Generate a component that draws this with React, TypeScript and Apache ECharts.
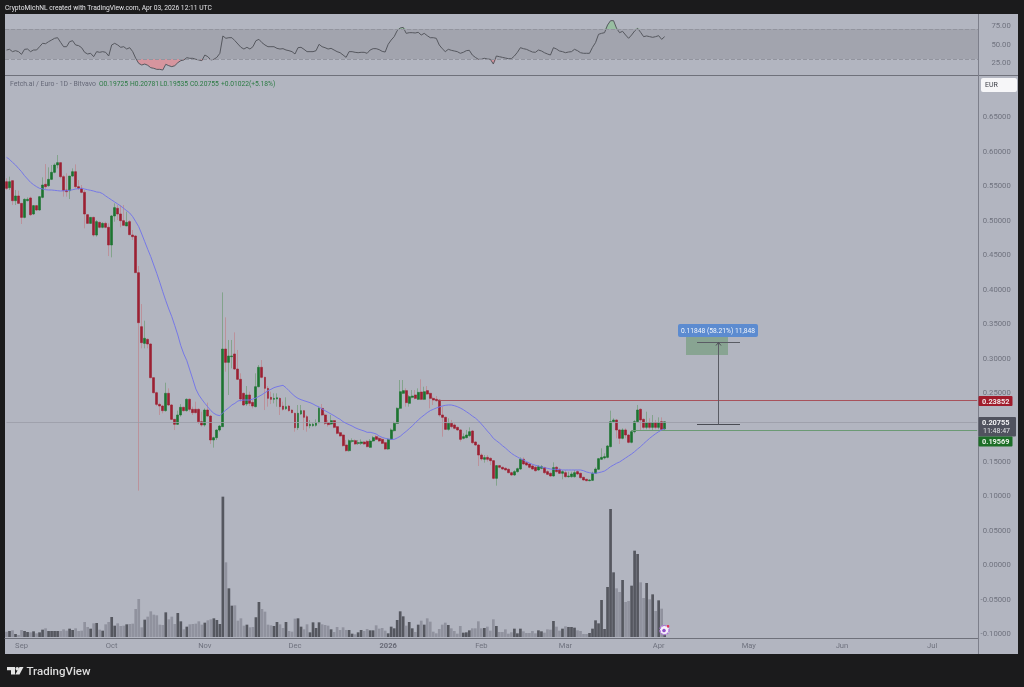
import React, { useEffect, useRef } from "react";
import * as echarts from "echarts";

const TOTAL_DAYS = 324;
const categories: string[] = [];
for (let d = 0; d < TOTAL_DAYS; d++) {
  categories.push(new Date(Date.UTC(2025, 7, 27 + d)).toISOString().slice(0, 10));
}
const monthNames = ["Jan", "Feb", "Mar", "Apr", "May", "Jun", "Jul", "Aug", "Sep", "Oct", "Nov", "Dec"];

const opens = [
  .5555,.5468,.5570,.5280,.5348,.5241,.5038,.5280,.5319,.5087,
  .5208,.5145,.5328,.5517,.5497,.5589,.5691,.5797,.5831,.5628,
  .5435,.5425,.5637,.5700,.5483,.5459,.5401,.5077,.4951,.5038,
  .4782,.4966,.4894,.4951,.4894,.4638,.5058,.5169,.5087,.4990,
  .4913,.4976,.4782,.4768,.4236,.3454,.3212,.3270,.3203,.2715,
  .2497,.2328,.2304,.2237,.2488,.2319,.2111,.2039,.2174,.2285,
  .2237,.2401,.2256,.2256,.2256,.2077,.2029,.2246,.2159,.1812,
  .1845,.1956,.2005,.3130,.2937,.3019,.3058,.2840,.2691,.2488,
  .2333,.2464,.2357,.2295,.2584,.2865,.2720,.2560,.2430,.2401,
  .2406,.2415,.2304,.2266,.2304,.2246,.2198,.1990,.2188,.2237,
  .2150,.2019,.2019,.2024,.2063,.2270,.2174,.2063,.2043,.2092,
  .2005,.1918,.1884,.1739,.1657,.1792,.1802,.1763,.1763,.1783,
  .1792,.1705,.1797,.1860,.1836,.1821,.1773,.1681,.1821,.1947,
  .2053,.2271,.2488,.2527,.2343,.2430,.2464,.2401,.2507,.2401,
  .2527,.2488,.2415,.2401,.2391,.2174,.2140,.1966,.2053,.2029,
  .1995,.1957,.1836,.1846,.1875,.1942,.1783,.1739,.1594,.1532,
  .1560,.1546,.1512,.1256,.1440,.1416,.1401,.1387,.1338,.1305,
  .1353,.1391,.1532,.1483,.1464,.1435,.1416,.1377,.1401,.1411,
  .1353,.1329,.1290,.1416,.1387,.1329,.1338,.1280,.1280,.1280,
  .1353,.1329,.1271,.1242,.1222,.1227,.1329,.1387,.1532,.1551,
  .1560,.1715,.2077,.2101,.1957,.1836,.1957,.1884,.1778,.1932,
  .2077,.2256,.2111,.1995,.2063,.1995,.2063,.1995,.2077,.19725,
];
const highs = [
  .5604,.5628,.5570,.5435,.5425,.5241,.5314,.5328,.5338,.5217,
  .5217,.5348,.5618,.5811,.5763,.5797,.5821,.5942,.5831,.5652,
  .5676,.5637,.5748,.5806,.5579,.5507,.5435,.5087,.5038,.5048,
  .5000,.4976,.4966,.4976,.4951,.5072,.5241,.5217,.5217,.5217,
  .5121,.5000,.4855,.4782,.4333,.3782,.3541,.3285,.3212,.2715,
  .2512,.2353,.2319,.2642,.2560,.2333,.2111,.2237,.2333,.2295,
  .2415,.2415,.2295,.2367,.2270,.2222,.2270,.2353,.2174,.1860,
  .1966,.2029,.3951,.3589,.3261,.3261,.3372,.3116,.2778,.2498,
  .2594,.2512,.2391,.2778,.2898,.2971,.2729,.2594,.2512,.2488,
  .2488,.2430,.2367,.2430,.2319,.2256,.2208,.2319,.2319,.2246,
  .2174,.2101,.2063,.2111,.2295,.2333,.2198,.2101,.2174,.2101,
  .2014,.1932,.1899,.1812,.1821,.1836,.1821,.1812,.1821,.1797,
  .1812,.1826,.1870,.1879,.1860,.1846,.1788,.1836,.1981,.2077,
  .2285,.2681,.2681,.2560,.2464,.2536,.2536,.2560,.2691,.2584,
  .2594,.2498,.2440,.2449,.2401,.2295,.2150,.2126,.2102,.2053,
  .2005,.1966,.1908,.1957,.1995,.1957,.1792,.1754,.1618,.1594,
  .1594,.1560,.1522,.1449,.1449,.1425,.1416,.1401,.1353,.1377,
  .1411,.1560,.1560,.1498,.1473,.1454,.1440,.1449,.1449,.1425,
  .1377,.1343,.1488,.1435,.1401,.1377,.1377,.1353,.1353,.1377,
  .1377,.1338,.1280,.1251,.1242,.1353,.1416,.1551,.1691,.1618,
  .1739,.2237,.2126,.2111,.1966,.1981,.1981,.1894,.1957,.2102,
  .2319,.2271,.2126,.2222,.2126,.2174,.2102,.2140,.2140,.20781,
];
const lows = [
  .5435,.5435,.5217,.5217,.5241,.4942,.5024,.5270,.5058,.5072,
  .5130,.5135,.5314,.5444,.5483,.5579,.5676,.5748,.5604,.5338,
  .5338,.5304,.5628,.5459,.5435,.5386,.4879,.4951,.4951,.4758,
  .4758,.4879,.4880,.4880,.4478,.4459,.4976,.5000,.4894,.4923,
  .4913,.4782,.4710,.4237,.1077,.3140,.3140,.3140,.2705,.2488,
  .2304,.2174,.2198,.2222,.2304,.2101,.1956,.2029,.2150,.2222,
  .2222,.2222,.2174,.2198,.2043,.2005,.2005,.2150,.1754,.1701,
  .1812,.1932,.2005,.2802,.2464,.2850,.2826,.2681,.2367,.2304,
  .2304,.2304,.2270,.2285,.2575,.2705,.2246,.2295,.2333,.2343,
  .2295,.2174,.2237,.2246,.2222,.2198,.1932,.1956,.2174,.1956,
  .1932,.1981,.2005,.2005,.2053,.2159,.2029,.2005,.2029,.1981,
  .1894,.1860,.1715,.1643,.1643,.1773,.1739,.1739,.1739,.1739,
  .1705,.1700,.1783,.1807,.1783,.1754,.1667,.1667,.1812,.1933,
  .2044,.2256,.2478,.2295,.2295,.2415,.2401,.2391,.2391,.2391,
  .2464,.2271,.2319,.2367,.2150,.1860,.1957,.1947,.1981,.1966,
  .1947,.1788,.1821,.1836,.1860,.1754,.1725,.1435,.1512,.1483,
  .1498,.1449,.1242,.1150,.1401,.1377,.1367,.1329,.1290,.1290,
  .1338,.1377,.1449,.1435,.1401,.1377,.1353,.1367,.1387,.1319,
  .1305,.1280,.1280,.1338,.1319,.1242,.1266,.1266,.1266,.1266,
  .1305,.1251,.1222,.1213,.1213,.1218,.1319,.1377,.1522,.1532,
  .1546,.1705,.2063,.1836,.1754,.1821,.1836,.1763,.1763,.1908,
  .2063,.1947,.1966,.1966,.1966,.1957,.1966,.1966,.1957,.19535,
];
const closes = [
  .5459,.5555,.5280,.5348,.5241,.5038,.5299,.5299,.5077,.5208,
  .5145,.5338,.5507,.5483,.5589,.5691,.5797,.5831,.5628,.5425,
  .5410,.5637,.5700,.5483,.5459,.5401,.5087,.4951,.5038,.4782,
  .4976,.4894,.4951,.4894,.4638,.5058,.5179,.5087,.4990,.4923,
  .4966,.4787,.4758,.4237,.3512,.3222,.3285,.3203,.2715,.2497,
  .2328,.2304,.2237,.2488,.2319,.2111,.2039,.2174,.2285,.2237,
  .2401,.2256,.2208,.2208,.2077,.2029,.2246,.2159,.1812,.1845,
  .1956,.2014,.3130,.2937,.3029,.3029,.2840,.2691,.2406,.2319,
  .2464,.2343,.2304,.2584,.2865,.2720,.2560,.2415,.2401,.2415,
  .2425,.2295,.2256,.2295,.2237,.2208,.1990,.2198,.2237,.2140,
  .2014,.2039,.2039,.2063,.2270,.2174,.2053,.2034,.2092,.1995,
  .1908,.1870,.1730,.1657,.1802,.1802,.1754,.1773,.1783,.1754,
  .1715,.1797,.1846,.1821,.1797,.1763,.1681,.1821,.1957,.2053,
  .2271,.2512,.2527,.2353,.2440,.2449,.2415,.2502,.2401,.2512,
  .2478,.2415,.2391,.2382,.2174,.2140,.1966,.2053,.2005,.1981,
  .1957,.1821,.1860,.1884,.1932,.1773,.1739,.1594,.1536,.1556,
  .1532,.1512,.1256,.1440,.1416,.1391,.1377,.1338,.1305,.1353,
  .1396,.1532,.1464,.1449,.1416,.1391,.1367,.1425,.1425,.1338,
  .1314,.1290,.1411,.1353,.1329,.1353,.1280,.1290,.1319,.1338,
  .1319,.1266,.1232,.1222,.1232,.1329,.1391,.1541,.1560,.1570,
  .1725,.2077,.2101,.1957,.1836,.1957,.1884,.1778,.1932,.2077,
  .2246,.2102,.1995,.2063,.1995,.2063,.1995,.2063,.1966,.20755,
];
const movingAverage = [
  .5908,.5879,.5835,.5797,.5748,.5700,.5642,.5594,.5546,.5512,
  .5483,.5459,.5451,.5439,.5435,.5435,.5430,.5425,.5420,.5425,
  .5425,.5430,.5439,.5449,.5454,.5459,.5449,.5439,.5430,.5420,
  .5406,.5401,.5381,.5348,.5319,.5290,.5261,.5232,.5203,.5169,
  .5135,.5101,.5048,.4976,.4903,.4797,.4686,.4575,.4469,.4348,
  .4227,.4097,.3961,.3831,.3710,.3599,.3469,.3334,.3178,.3058,
  .2961,.2826,.2691,.2551,.2464,.2401,.2343,.2290,.2237,.2198,
  .2174,.2164,.2208,.2246,.2280,.2319,.2343,.2377,.2386,.2391,
  .2391,.2391,.2406,.2420,.2444,.2468,.2497,.2526,.2546,.2570,
  .2584,.2594,.2604,.2570,.2526,.2483,.2444,.2415,.2396,.2381,
  .2367,.2353,.2333,.2309,.2290,.2261,.2237,.2212,.2188,.2164,
  .2135,.2111,.2077,.2053,.2034,.2014,.1990,.1971,.1956,.1942,
  .1923,.1923,.1913,.1899,.1870,.1850,.1836,.1826,.1821,.1821,
  .1841,.1865,.1903,.1937,.1976,.2015,.2058,.2102,.2140,.2174,
  .2208,.2237,.2256,.2275,.2290,.2304,.2314,.2319,.2319,.2309,
  .2295,.2275,.2251,.2222,.2193,.2159,.2130,.2092,.2044,.1995,
  .1942,.1894,.1836,.1802,.1768,.1730,.1696,.1657,.1619,.1590,
  .1565,.1541,.1522,.1498,.1478,.1459,.1445,.1435,.1420,.1411,
  .1401,.1391,.1387,.1387,.1382,.1377,.1377,.1377,.1377,.1377,
  .1377,.1377,.1367,.1348,.1338,.1329,.1329,.1338,.1348,.1362,
  .1391,.1425,.1449,.1474,.1493,.1522,.1551,.1580,.1609,.1643,
  .1681,.1715,.1759,.1797,.1836,.1870,.1903,.1932,.1957,.1971,
];
const rsiValues = [
  42.0,42.9,39.8,41.1,39.8,36.2,42.9,43.3,39.8,42.0,
  42.0,46.4,50.9,50.4,53.1,55.3,57.6,58.4,52.2,46.4,
  46.4,53.1,54.4,48.7,47.8,45.1,38.9,36.7,37.6,33.1,
  39.8,38.9,39.8,38.9,34.0,48.7,50.9,48.7,45.6,46.4,
  43.3,45.1,39.8,30.9,24.2,22.0,23.3,21.6,18.4,17.6,
  16.2,16.2,15.3,22.9,21.1,19.8,21.1,25.1,27.8,28.7,
  31.8,30.9,30.9,29.6,28.7,27.8,35.3,33.1,28.7,29.6,
  32.2,37.6,60.7,57.6,58.4,58.4,54.4,50.0,45.6,43.3,
  45.6,43.3,46.4,54.4,56.2,51.8,48.7,46.4,46.4,46.4,
  44.2,43.3,43.8,42.0,41.1,39.8,36.7,45.1,45.6,42.9,
  39.8,39.8,39.8,41.1,49.6,46.4,45.1,43.3,44.2,42.0,
  39.8,38.4,35.3,32.2,39.8,39.8,38.9,38.4,38.9,38.9,
  37.6,42.0,43.8,43.8,42.5,40.2,39.3,49.6,55.3,59.8,
  67.8,71.3,72.2,64.2,65.1,65.1,64.7,65.6,62.0,64.2,
  61.1,58.4,58.4,57.6,48.7,43.8,39.8,42.9,41.6,40.7,
  39.8,37.6,38.9,41.1,41.6,35.3,32.2,29.6,29.6,30.9,
  30.0,29.6,23.3,34.0,33.1,32.2,31.3,30.4,30.4,34.0,
  38.9,45.1,43.8,42.9,41.1,39.3,38.9,42.0,40.7,38.4,
  36.7,35.3,45.1,43.3,40.7,39.8,38.4,39.3,39.8,42.9,
  41.1,38.4,37.6,37.6,37.6,45.6,51.8,62.9,64.2,65.1,
  75.3,81.1,81.1,70.9,65.1,66.9,62.0,57.6,62.0,67.3,
  70.9,65.6,59.8,60.7,59.8,58.9,59.8,61.1,56.2,59.8,
];
const volumes = [
  16,18,20,9,6,21,18,15,14,17,
  11,14,22,26,18,18,18,18,18,23,
  19,25,21,26,18,19,45,30,25,41,
  42,22,19,38,45,60,34,41,33,34,
  38,39,40,84,114,29,52,61,77,67,
  65,37,36,74,53,61,39,72,47,23,
  31,38,39,40,47,37,43,50,53,56,
  51,39,421,224,146,94,95,49,56,34,
  37,29,30,59,105,84,76,37,35,33,
  45,38,27,45,18,16,55,56,31,23,
  38,14,44,27,44,38,36,34,23,15,
  30,21,29,21,21,10,8,14,21,18,
  24,20,20,35,25,27,19,11,31,26,
  51,77,62,34,45,26,15,37,49,37,
  56,46,16,11,24,37,43,36,26,18,
  10,33,13,14,20,26,26,47,26,27,
  31,19,53,33,15,15,23,10,14,25,
  11,25,17,12,12,18,11,20,17,13,
  23,22,48,31,19,25,32,30,30,28,
  20,18,9,9,12,25,50,41,111,24,
  150,384,194,146,135,171,105,108,154,259,
  249,164,117,162,113,128,78,110,85,36,
];
const priceTicks = [0.65, 0.6, 0.55, 0.5, 0.45, 0.4, 0.35, 0.3, 0.25, 0.15, 0.1, 0.05, 0, -0.05, -0.1];
const rsiTicks = [25, 50, 75];
const resistanceLevel = 0.23852;
const supportLevel = 0.19569;
const lastPrice = 0.20755;

const PANEL = "#b2b5c0";
const UP = "#1c7430";
const DOWN = "#9c2032";
const UP_WICK = "#83a38c";
const DOWN_WICK = "#bb929b";
const FONT = "Roboto, 'Liberation Sans', sans-serif";

const App = () => {
  const ref = useRef<HTMLDivElement>(null);
  useEffect(() => {
    const chart = echarts.init(ref.current!, undefined, { renderer: "svg", width: 1024, height: 687 });
    const wicks = opens.map((o, i) => [o, closes[i], lows[i], highs[i]]);
    const bodies = opens.map((o, i) => [o, closes[i], Math.min(o, closes[i]), Math.max(o, closes[i])]);
    const volumeData = volumes.map((v, i) => ({
      value: v,
      itemStyle: { color: closes[i] >= opens[i] ? "#55575f" : "#90929e" },
    }));
    const txt = (text: string, x: number, y: number, fill: string, size = 6.6, extra: any = {}) => ({
      type: "text", x, y, z: 100, silent: true,
      style: { text, fill, font: `${extra.weight || "normal"} ${size}px ${FONT}`, textVerticalAlign: "middle", textAlign: extra.align || "left" },
    });
    const box = (x: number, y: number, w: number, h: number, fill: string, r = 0, z = 99) => ({
      type: "rect", z, silent: true, shape: { x, y, width: w, height: h, r }, style: { fill },
    });
    const seg = (x1: number, y1: number, x2: number, y2: number, stroke: string, z = 1, lineWidth = 1) => ({
      type: "line", z, silent: true, shape: { x1, y1, x2, y2 }, style: { stroke, lineWidth },
    });
    const hLine = (level: number, startIdx: number, color: string, opacity = 1) => [
      {
        coord: [categories[startIdx], level],
        lineStyle: { color, type: "solid", width: 1, opacity },
      },
      { coord: [categories[TOTAL_DAYS - 1], level] },
    ];

    chart.setOption({
      animation: false,
      backgroundColor: "#1b1b1c",
      textStyle: { fontFamily: FONT },
      grid: [
        { left: 5, width: 973.7, top: 14, height: 61 },
        { left: 5, width: 973.7, top: 76, height: 562 },
      ],
      xAxis: [
        { type: "category", gridIndex: 0, data: categories, boundaryGap: true, axisLine: { show: false }, axisTick: { show: false }, axisLabel: { show: false }, splitLine: { show: false } },
        {
          type: "category", gridIndex: 1, data: categories, boundaryGap: true, position: "bottom",
          axisLine: { show: true, onZero: false, lineStyle: { color: "#6f717b", width: 1 } }, axisTick: { show: false }, splitLine: { show: false },
          axisLabel: {
            show: true, margin: 3, fontSize: 7.6, color: "#6f727e", fontFamily: FONT, hideOverlap: false,
            interval: (_: number, v: string) => v.endsWith("-01"),
            formatter: (v: string) => {
              const m = Number(v.slice(5, 7));
              return m === 1 ? "{b|" + v.slice(0, 4) + "}" : monthNames[m - 1];
            },
            rich: { b: { fontSize: 7.6, fontWeight: "bold", color: "#686a76", fontFamily: FONT } },
          },
        },
      ],
      yAxis: [
        {
          type: "value", gridIndex: 0, position: "right", min: 8.67, max: 90, splitLine: { show: false }, axisLine: { show: false }, axisTick: { show: false },
          axisLabel: { customValues: rsiTicks, margin: 32, align: "right", fontSize: 7.7, color: "#6f727e", fontFamily: FONT, formatter: (v: number) => v.toFixed(2) },
        },
        {
          type: "value", gridIndex: 1, position: "right", min: -0.1058, max: 0.7087, splitLine: { show: false }, axisLine: { show: false }, axisTick: { show: false },
          axisLabel: { customValues: priceTicks, margin: 32, align: "right", fontSize: 7.7, color: "#6f727e", fontFamily: FONT, formatter: (v: number) => v.toFixed(5) },
        },
        { type: "value", gridIndex: 1, min: -3, max: 1683, show: false, splitLine: { show: false } },
      ],
      series: [
        {
          name: "RSI", type: "line", xAxisIndex: 0, yAxisIndex: 0, data: rsiValues, symbol: "none", z: 4,
          lineStyle: { color: "#56585f", width: 1 },
          markArea: { silent: true, itemStyle: { color: "#a2a4ae" }, data: [[{ yAxis: 70 }, { yAxis: 30 }]] },
          markLine: {
            silent: true, symbol: "none", label: { show: false },
            lineStyle: { color: "#92949e", type: "dashed", width: 1 },
            data: [{ yAxis: 70 }, { yAxis: 30 }],
          },
        },
        {
          name: "RSI oversold", type: "line", xAxisIndex: 0, yAxisIndex: 0, symbol: "none", z: 3,
          data: rsiValues.map((v) => Math.min(v, 30)),
          lineStyle: { opacity: 0, width: 0 },
          areaStyle: { origin: 30, color: "#dc8f98", opacity: 0.85 },
        },
        {
          name: "RSI overbought", type: "line", xAxisIndex: 0, yAxisIndex: 0, symbol: "none", z: 3,
          data: rsiValues.map((v) => Math.max(v, 70)),
          lineStyle: { opacity: 0, width: 0 },
          areaStyle: { origin: 70, color: "#93bf9b", opacity: 0.85 },
        },
        {
          name: "Volume", type: "bar", xAxisIndex: 1, yAxisIndex: 2, data: volumeData, barWidth: 2.7, z: 2,
        },
        {
          name: "Wicks", type: "candlestick", xAxisIndex: 1, yAxisIndex: 1, data: wicks, barWidth: 1, z: 3,
          itemStyle: { color: UP_WICK, color0: DOWN_WICK, borderColor: UP_WICK, borderColor0: DOWN_WICK, borderWidth: 1 },
          markLine: {
            silent: true, symbol: "none", label: { show: false },
            data: [
              hLine(lastPrice, 0, "#9a9ca6", 0.8),
              hLine(resistanceLevel, 144, "#a8525b"),
              hLine(supportLevel, 208, "#6b9a74"),
            ],
          },
        },
        {
          name: "Bodies", type: "candlestick", xAxisIndex: 1, yAxisIndex: 1, data: bodies, barWidth: 2.4, z: 4,
          itemStyle: { color: UP, color0: DOWN, borderColor: UP, borderColor0: DOWN, borderWidth: 0.6 },
        },
        {
          name: "MA", type: "line", xAxisIndex: 1, yAxisIndex: 1, data: movingAverage, symbol: "none", z: 5,
          lineStyle: { color: "#7678e6", width: 1 },
        },
      ],
      graphic: [
        box(5, 14, 1013, 640, PANEL, 0, -1),
        seg(5, 75.5, 1018, 75.5, "#6f717b", 50),
        seg(978.5, 14, 978.5, 654, "#7d7f8b", 50),
        txt("CryptoMichNL created with TradingView.com, Apr 03, 2026 12:11 UTC", 5, 8, "#e2e2e5", 6.7),
        txt("Fetch.ai / Euro - 1D - Bitvavo", 10, 84, "#666978", 6.9),
        txt("O0.19725", 99, 84, "#2a7a42", 6.7),
        txt("H0.20781", 130, 84, "#2a7a42", 6.7),
        txt("L0.19535", 160, 84, "#2a7a42", 6.7),
        txt("C0.20755", 190, 84, "#2a7a42", 6.7),
        txt("+0.01022", 221, 84, "#2a7a42", 6.7),
        txt("(+5.18%)", 249, 84, "#2a7a42", 6.7),
        box(981, 78, 36, 14, "#f6f6f8", 2),
        txt("EUR", 985, 85, "#3a3c44", 7),
        // price tags
        box(978.5, 396, 34, 10, "#a01c2c", 1),
        txt("0.23852", 982, 401, "#f2e6e8", 7.4, { weight: "bold" }),
        box(978.5, 417, 37.5, 19.5, "#50525e", 1),
        txt("0.20755", 982, 422, "#f2f2f4", 7.4, { weight: "bold" }),
        txt("11:48:47", 983, 431, "#e2e3e6", 7),
        box(978.5, 436.5, 34, 10, "#1c6e27", 1),
        txt("0.19569", 982, 441.5, "#eaf2ea", 7.4, { weight: "bold" }),
        // measure drawing
        box(686, 337, 42, 18, "rgba(78,140,84,0.42)", 0, 20),
        seg(697, 342.5, 740, 342.5, "#5a5c64", 21),
        seg(697, 424.5, 740, 424.5, "#4a4c54", 21),
        seg(718.5, 342.5, 718.5, 424.5, "#5a5c64", 21),
        { type: "polyline", z: 21, silent: true, shape: { points: [[716, 345.5], [718.5, 342.5], [721, 345.5]] }, style: { stroke: "#4a4c54", fill: "none", lineWidth: 1 } },
        box(678, 324, 80, 13, "#5c8bd0", 2, 22),
        txt("0.11848 (58.21%) 11,848", 718, 330.5, "#f1f5fb", 6.7, { align: "center" }),
        // news icon
        { type: "circle", z: 90, silent: true, shape: { cx: 664.5, cy: 630, r: 4.6 }, style: { fill: "#f5f0fa", stroke: "#b277de", lineWidth: 1.4, lineDash: [2, 1] } },
        { type: "circle", z: 91, silent: true, shape: { cx: 664, cy: 630.5, r: 1.8 }, style: { fill: "#8e4ec8" } },
        { type: "circle", z: 92, silent: true, shape: { cx: 668, cy: 626.2, r: 1.3 }, style: { fill: "#e0395a" } },
        // logo
        { type: "polygon", z: 100, silent: true, shape: { points: [[7, 667], [15, 667], [15, 674.5], [11, 674.5], [11, 670.3], [7, 670.3]] }, style: { fill: "#e4e4e4" } },
        { type: "circle", z: 100, silent: true, shape: { cx: 17.2, cy: 668.7, r: 1.7 }, style: { fill: "#e4e4e4" } },
        { type: "polygon", z: 100, silent: true, shape: { points: [[19.5, 667], [23.5, 667], [19.5, 674.5], [15.3, 674.5]] }, style: { fill: "#e4e4e4" } },
        {
          type: "text", x: 26.5, y: 671, z: 100, silent: true,
          style: { text: "TradingView", fill: "#dcdcdc", font: `500 11.5px ${FONT}`, textVerticalAlign: "middle" },
        },
      ],
    });
    return () => chart.dispose();
  }, []);
  return <div ref={ref} style={{ position: "fixed", left: 0, top: 0, width: 1024, height: 687, filter: "blur(0.4px)" }} />;
};

export default App;
